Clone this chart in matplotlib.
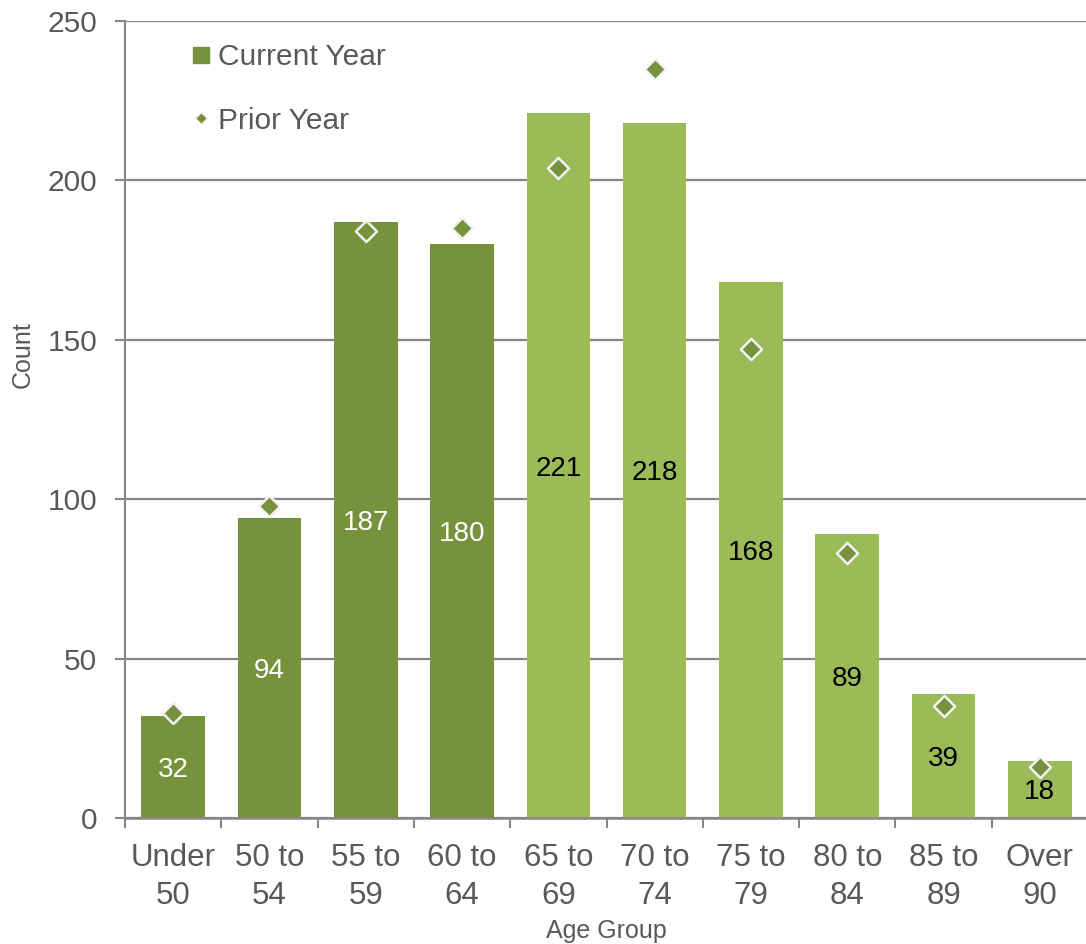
import matplotlib.pyplot as plt
from matplotlib.lines import Line2D

plt.rcParams['font.family'] = ['Liberation Sans', 'DejaVu Sans']

categories = ["Under\n50", "50 to\n54", "55 to\n59", "60 to\n64", "65 to\n69",
              "70 to\n74", "75 to\n79", "80 to\n84", "85 to\n89", "Over\n90"]
current_year = [32, 94, 187, 180, 221, 218, 168, 89, 39, 18]
prior_year = [33, 98, 184, 185, 204, 235, 147, 83, 35, 16]

dark_green = "#76923C"
light_green = "#9BBB59"
grey_text = "#595959"
grid_grey = "#868686"

bar_colors = [dark_green] * 4 + [light_green] * 6
label_colors = ["white"] * 4 + ["black"] * 6

fig = plt.figure(figsize=(10.86, 9.44), dpi=100)
ax = fig.add_axes([125 / 1086, 1 - 818 / 944, 963 / 1086, 797 / 944])

x = list(range(len(categories)))
bars = ax.bar(x, current_year, width=0.66, color=bar_colors, zorder=2)
ax.scatter(x, prior_year, marker="D", s=115, color=dark_green,
           edgecolors="#F2F2F2", linewidths=1.8, zorder=3)

for rect, val, col in zip(bars, current_year, label_colors):
    ax.annotate(str(val), (rect.get_x() + rect.get_width() / 2, val / 2),
                xytext=(0, -2), textcoords="offset points",
                ha="center", va="center", fontsize=20, color=col, zorder=4)

ax.set_xlim(-0.5, len(categories) - 0.5)
ax.set_ylim(0, 250)
ax.set_yticks([0, 50, 100, 150, 200, 250])
ax.yaxis.grid(True, color=grid_grey, linewidth=1.6, zorder=0)
ax.set_axisbelow(True)

ax.set_xticks(x)
ax.set_xticklabels(categories, fontsize=22.5, color=grey_text, linespacing=1.35)
ax.set_xticks([i - 0.5 for i in range(len(categories) + 1)], minor=True)
ax.tick_params(axis="x", which="major", length=0, pad=18)
ax.tick_params(axis="x", which="minor", length=7, width=1.5, color=grid_grey)
ax.tick_params(axis="y", length=7, width=1.5, color=grid_grey,
               labelsize=21.5, labelcolor=grey_text, pad=13)

for side in ("top", "right"):
    ax.spines[side].set_visible(False)
ax.spines["left"].set_color(grid_grey)
ax.spines["left"].set_linewidth(1.5)
ax.spines["bottom"].set_color(grid_grey)
ax.spines["bottom"].set_linewidth(1.8)

ax.set_ylabel("Count", fontsize=18, color=grey_text)
ax.yaxis.set_label_coords(-0.094, 0.581)
ax.set_xlabel("Age Group", fontsize=18, color=grey_text, labelpad=6)

handles = [
    Line2D([], [], marker="s", linestyle="none", markersize=12,
           markerfacecolor=dark_green, markeredgecolor=dark_green),
    Line2D([], [], marker="D", linestyle="none", markersize=6.5,
           markerfacecolor=dark_green, markeredgecolor="#F2F2F2"),
]
leg = ax.legend(handles, ["Current Year", "Prior Year"], loc="upper left",
                bbox_to_anchor=(0.042, 1.006), frameon=False, fontsize=21.5,
                labelspacing=1.2, handlelength=0.6, handletextpad=0.25)
for t in leg.get_texts():
    t.set_color(grey_text)

fig.savefig("out.png", dpi=100)
